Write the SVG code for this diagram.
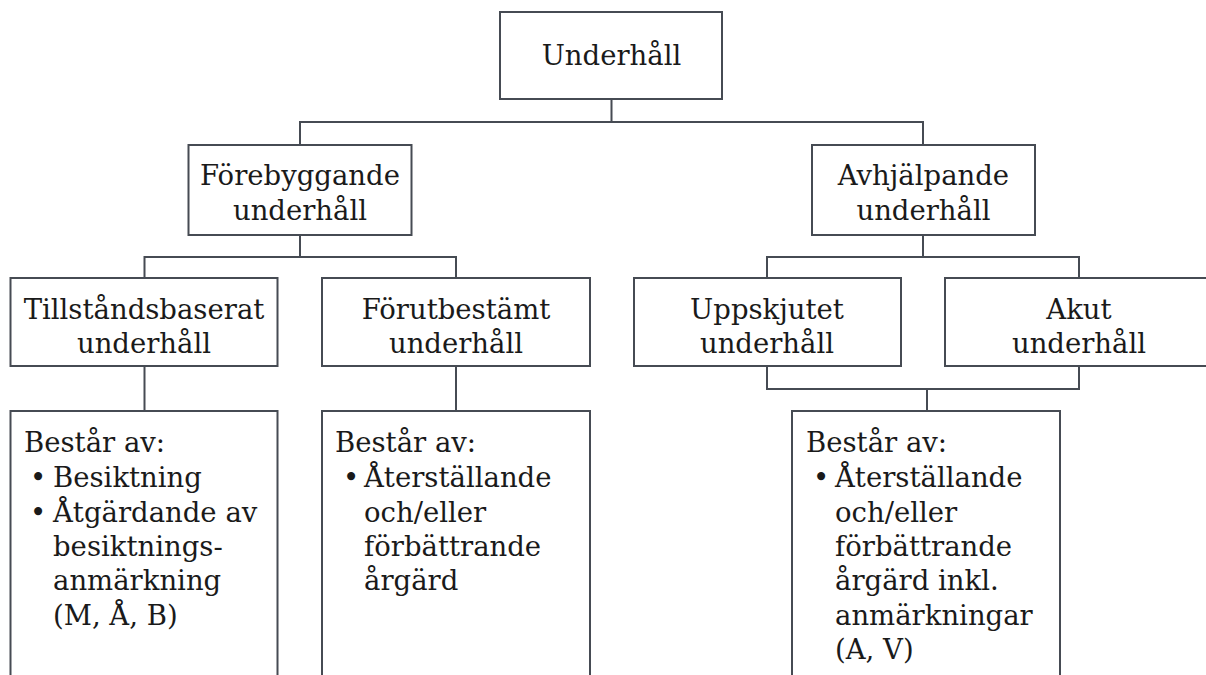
<svg xmlns="http://www.w3.org/2000/svg" width="1206" height="675" viewBox="0 0 1206 675">
<style>
.box{fill:#ffffff;stroke:#464b53;stroke-width:2}
.conn{fill:none;stroke:#464b53;stroke-width:2}
text{font-family:"DejaVu Serif","Liberation Serif",serif;font-size:27.5px;fill:#1a1a1a}
.c{text-anchor:middle}
</style>
<rect width="1206" height="675" fill="#ffffff"/>
<g id="connectors">
<path class="conn" d="M611.5,99 V122 M300,145 V122 H923 V145"/>
<path class="conn" d="M300,235 V257 M144.5,278 V257 H456 V278"/>
<path class="conn" d="M923,235 V257 M767,278 V257 H1079 V278"/>
<path class="conn" d="M144.5,366 V411"/>
<path class="conn" d="M456,366 V411"/>
<path class="conn" d="M767,366 V389 H1079 V366 M927,389 V411"/>
</g>
<g id="n-underhall">
<rect class="box" x="500" y="12" width="222" height="87"/>
<text class="c" x="611.5" y="65">Underhåll</text>
</g>
<g id="n-forebyggande">
<rect class="box" x="188.5" y="145" width="223" height="90"/>
<text class="c" x="300" y="185">Förebyggande</text>
<text class="c" x="300" y="220">underhåll</text>
</g>
<g id="n-avhjalpande">
<rect class="box" x="812" y="145" width="223" height="90"/>
<text class="c" x="923.5" y="185">Avhjälpande</text>
<text class="c" x="923.5" y="220">underhåll</text>
</g>
<g id="n-tillstand">
<rect class="box" x="10.5" y="278" width="267" height="88"/>
<text class="c" x="144" y="319">Tillståndsbaserat</text>
<text class="c" x="144" y="353">underhåll</text>
</g>
<g id="n-forutbestamt">
<rect class="box" x="322" y="278" width="268" height="88"/>
<text class="c" x="456" y="319">Förutbestämt</text>
<text class="c" x="456" y="353">underhåll</text>
</g>
<g id="n-uppskjutet">
<rect class="box" x="634" y="278" width="267" height="88"/>
<text class="c" x="767" y="319">Uppskjutet</text>
<text class="c" x="767" y="353">underhåll</text>
</g>
<g id="n-akut">
<rect class="box" x="945" y="278" width="268" height="88"/>
<text class="c" x="1079" y="319">Akut</text>
<text class="c" x="1079" y="353">underhåll</text>
</g>
<g id="d-tillstand">
<rect class="box" x="10.5" y="411" width="267" height="280"/>
<text x="24" y="452">Består av:</text>
<text x="30" y="487">•</text>
<text x="53" y="487">Besiktning</text>
<text x="30" y="522">•</text>
<text x="53" y="522">Åtgärdande av</text>
<text x="53" y="556">besiktnings-</text>
<text x="53" y="590">anmärkning</text>
<text x="53" y="625">(M, Å, B)</text>
</g>
<g id="d-forutbestamt">
<rect class="box" x="322" y="411" width="268" height="280"/>
<text x="335" y="452">Består av:</text>
<text x="343" y="487">•</text>
<text x="364" y="487">Återställande</text>
<text x="364" y="522">och/eller</text>
<text x="364" y="556">förbättrande</text>
<text x="364" y="590">årgärd</text>
</g>
<g id="d-avhjalpande">
<rect class="box" x="792" y="411" width="268" height="280"/>
<text x="806" y="452">Består av:</text>
<text x="813" y="487">•</text>
<text x="835" y="487">Återställande</text>
<text x="835" y="522">och/eller</text>
<text x="835" y="556">förbättrande</text>
<text x="835" y="590">årgärd inkl.</text>
<text x="835" y="625">anmärkningar</text>
<text x="835" y="659">(A, V)</text>
</g>
</svg>
